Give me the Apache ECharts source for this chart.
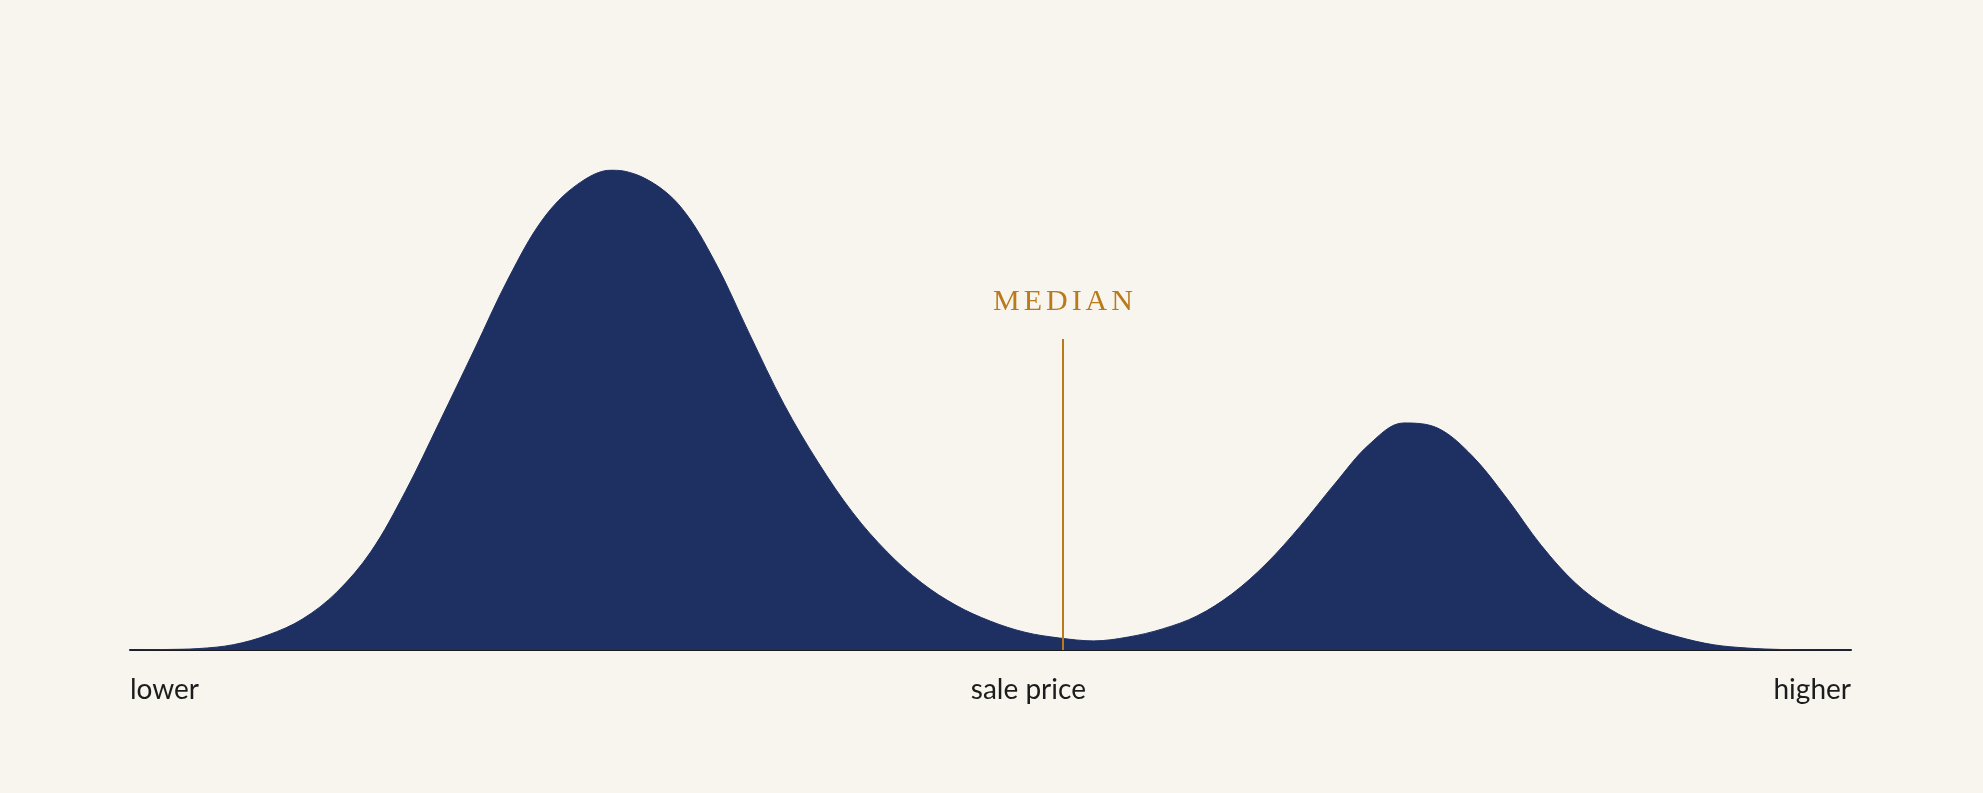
<!doctype html>
<html>
<head>
<meta charset="utf-8">
<style>
    html, body { margin: 0; padding: 0; background: #f8f5ee; }
    #chart-panel { position: absolute; left: 0; top: 0; width: 1983px; height: 793px; }
</style>
<script src="https://cdn.jsdelivr.net/npm/echarts@6/dist/echarts.min.js"></script>
</head>
<body>
<div id="chart-panel"></div>
<script type="text/javascript">
    // price position along the axis (0 = lower, 100 = higher), every 2 units
    var pricePos = [0, 2, 4, 6, 8, 10, 12, 14, 16, 18,
        20, 22, 24, 26, 28, 30, 32, 34, 36, 38,
        40, 42, 44, 46, 48, 50, 52, 54, 56, 58,
        60, 62, 64, 66, 68, 70, 72, 74, 76, 78,
        80, 82, 84, 86, 88, 90, 92, 94, 96, 98, 100];
    // share of sales at that price (relative, tallest peak = 100)
    var density = [0, 0.1, 0.3, 1.1, 3.1, 6.4, 12.0, 20.5, 33.0, 47.6,
        62.5, 77.5, 89.8, 97.0, 100, 98.1, 92.3, 80.8, 65.8, 51.2,
        39.0, 28.6, 20.4, 14.0, 9.3, 6.0, 3.7, 2.5, 1.9, 2.7,
        4.4, 7.1, 11.6, 17.9, 25.8, 34.6, 42.8, 47.3, 46.2, 40.4,
        31.6, 21.8, 13.9, 8.5, 5.0, 2.7, 1.1, 0.4, 0.1, 0.02, 0];
    var medianPos = 54.21;
    var medianTop = 64.8;
    var tickPos = [0, 52.2, 100];
    var tickNames = ['lower', 'sale price', 'higher'];

    var points = [];
    for (var i = 0; i < pricePos.length; i++) {
        points.push([pricePos[i], density[i]]);
    }

    var navy = '#1e2f62';
    var gold = '#b97a1c';
    var medianText = 'MEDIAN'.split('').map(function (c) { return '{l|' + c + '}'; }).join('');

    var myChart = echarts.init(document.getElementById('chart-panel'));
    var option = {
        backgroundColor: '#f8f5ee',
        animation: false,
        grid: { left: 130, right: 132, top: 170, bottom: 143 },
        xAxis: {
            type: 'value',
            min: 0,
            max: 100,
            axisLine: { show: true, lineStyle: { color: '#1b1b1f', width: 2 } },
            axisTick: { show: false },
            splitLine: { show: false },
            axisLabel: {
                customValues: tickPos,
                alignMinLabel: 'left',
                alignMaxLabel: 'right',
                margin: 26,
                fontFamily: 'Lato, "Open Sans", sans-serif',
                fontSize: 28,
                color: '#1c1c1c',
                formatter: function (v) {
                    var k = tickPos.indexOf(v);
                    return k >= 0 ? tickNames[k] : '';
                }
            }
        },
        yAxis: {
            type: 'value',
            min: 0,
            max: 100,
            show: false
        },
        series: [{
            type: 'line',
            data: points,
            smooth: 0.35,
            symbol: 'none',
            lineStyle: { color: navy, width: 1 },
            areaStyle: { color: navy, opacity: 1 },
            z: 2,
            markLine: {
                silent: true,
                symbol: 'none',
                lineStyle: { color: gold, width: 2, type: 'solid' },
                label: {
                    show: true,
                    position: 'end',
                    distance: 22,
                    formatter: medianText,
                    rich: {
                        l: {
                            fontFamily: '"Liberation Serif", "DejaVu Serif", serif',
                            fontSize: 30,
                            color: gold,
                            padding: [0, 2]
                        }
                    }
                },
                data: [[{ coord: [medianPos, 0] }, { coord: [medianPos, medianTop] }]]
            }
        }]
    };
    myChart.setOption(option);
</script>
</body>
</html>
